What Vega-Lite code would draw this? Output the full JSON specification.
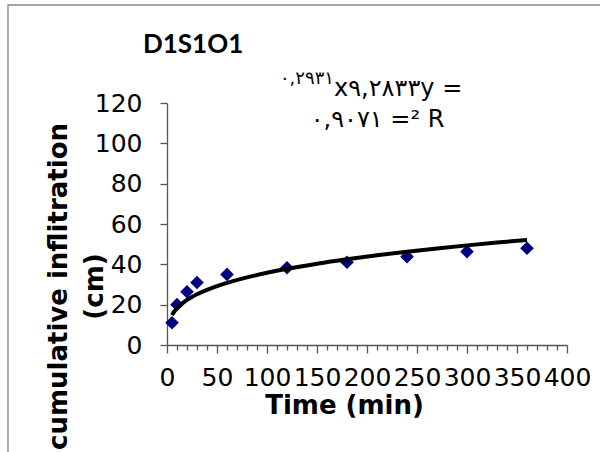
{
  "$schema": "https://vega.github.io/schema/vega-lite/v6.json",
  "width": 400,
  "height": 242,
  "autosize": "none",
  "padding": {"left": 167, "top": 103, "right": 33, "bottom": 107},
  "background": "white",
  "title": {
    "text": "D1S1O1",
    "anchor": "start",
    "frame": "group",
    "font": "Lato",
    "fontSize": 26,
    "fontWeight": "bold",
    "color": "black",
    "dx": -24,
    "offset": -75,
    "baseline": "alphabetic"
  },
  "datasets": {
    "obs": [
      {"time": 5, "infiltration": 11.0},
      {"time": 10, "infiltration": 20.0},
      {"time": 20, "infiltration": 26.4},
      {"time": 30, "infiltration": 31.0},
      {"time": 60, "infiltration": 35.0},
      {"time": 120, "infiltration": 38.3},
      {"time": 180, "infiltration": 41.0},
      {"time": 240, "infiltration": 43.8},
      {"time": 300, "infiltration": 46.3},
      {"time": 360, "infiltration": 48.0}
    ],
    "fit": [
      {"time": 5, "infiltration": 14.88},
      {"time": 7.5, "infiltration": 16.76},
      {"time": 10, "infiltration": 18.23},
      {"time": 15, "infiltration": 20.53},
      {"time": 20, "infiltration": 22.34},
      {"time": 25, "infiltration": 23.85},
      {"time": 30, "infiltration": 25.16},
      {"time": 40, "infiltration": 27.37},
      {"time": 50, "infiltration": 29.22},
      {"time": 60, "infiltration": 30.82},
      {"time": 80, "infiltration": 33.54},
      {"time": 100, "infiltration": 35.80},
      {"time": 120, "infiltration": 37.77},
      {"time": 150, "infiltration": 40.32},
      {"time": 180, "infiltration": 42.53},
      {"time": 210, "infiltration": 44.50},
      {"time": 240, "infiltration": 46.27},
      {"time": 270, "infiltration": 47.90},
      {"time": 300, "infiltration": 49.40},
      {"time": 330, "infiltration": 50.80},
      {"time": 360, "infiltration": 52.11}
    ],
    "note": [{"label": "equation"}]
  },
  "config": {
    "view": {"stroke": null},
    "axis": {
      "grid": false,
      "domainColor": "#555555",
      "tickColor": "#555555",
      "domainWidth": 1.3,
      "tickWidth": 1.3,
      "labelFont": "DejaVu Sans",
      "labelFontSize": 25,
      "labelColor": "black",
      "titleFont": "DejaVu Sans",
      "titleFontWeight": "bold",
      "titleFontSize": 26,
      "titleColor": "black",
      "labelOverlap": false,
      "labelFlush": false,
      "labelBound": false
    }
  },
  "encoding": {
    "y": {
      "type": "quantitative",
      "scale": {"domain": [0, 120], "nice": false},
      "axis": {
        "values": [0, 20, 40, 60, 80, 100, 120],
        "title": ["cumulative inflitration", "(cm)"],
        "tickSize": 7,
        "labelPadding": 18,
        "titleX": -122,
        "titleY": 183,
        "titleAngle": 270,
        "titleAlign": "center",
        "titleBaseline": "top",
        "titleLineHeight": 36
      }
    }
  },
  "layer": [
    {
      "data": {"name": "note"},
      "mark": {"type": "rect", "filled": false, "stroke": "#868686", "strokeWidth": 1.3, "clip": false},
      "encoding": {
        "x": {"datum": -159, "type": "quantitative", "axis": null},
        "x2": {"datum": 450},
        "y": {"datum": 168.6, "type": "quantitative"},
        "y2": {"datum": -60}
      }
    },
    {
      "data": {"name": "obs"},
      "mark": {"type": "point", "shape": "diamond", "filled": true, "color": "#000080", "size": 185, "opacity": 1},
      "encoding": {
        "x": {
          "field": "time",
          "type": "quantitative",
          "axis": {
            "orient": "bottom",
            "values": [10, 20, 30, 40, 60, 70, 80, 90, 110, 120, 130, 140, 160, 170, 180, 190, 210, 220, 230, 240, 260, 270, 280, 290, 310, 320, 330, 340, 360, 370, 380, 390],
            "labels": false,
            "title": null,
            "domain": false,
            "tickSize": 5
          }
        },
        "y": {"field": "infiltration", "type": "quantitative"}
      }
    },
    {
      "data": {"name": "fit"},
      "mark": {"type": "line", "color": "black", "strokeWidth": 4, "interpolate": "monotone"},
      "encoding": {
        "x": {
          "field": "time",
          "type": "quantitative",
          "scale": {"domain": [0, 400], "nice": false},
          "axis": {
            "orient": "bottom",
            "values": [0, 50, 100, 150, 200, 250, 300, 350, 400],
            "title": "Time (min)",
            "tickSize": 8,
            "labelPadding": 12,
            "titleX": 177,
            "titleY": 47,
            "titleAlign": "center",
            "titleBaseline": "top"
          }
        },
        "y": {"field": "infiltration", "type": "quantitative"}
      }
    },
    {
      "data": {"name": "note"},
      "mark": {"type": "text", "text": "٠,٢٩٣١", "align": "right", "baseline": "alphabetic", "font": "DejaVu Sans", "fontSize": 18, "color": "black"},
      "encoding": {
        "x": {"datum": 167, "type": "quantitative", "axis": null},
        "y": {"datum": 129.2, "type": "quantitative"}
      }
    },
    {
      "data": {"name": "note"},
      "mark": {"type": "text", "text": "x٩,٢٨٣٣y =", "align": "left", "baseline": "alphabetic", "font": "DejaVu Sans", "fontSize": 24, "color": "black"},
      "encoding": {
        "x": {"datum": 167, "type": "quantitative", "axis": null},
        "y": {"datum": 123.5, "type": "quantitative"}
      }
    },
    {
      "data": {"name": "note"},
      "mark": {"type": "text", "text": "٠,٩٠٧١ =² R", "align": "center", "baseline": "alphabetic", "font": "DejaVu Sans", "fontSize": 24, "color": "black"},
      "encoding": {
        "x": {"datum": 210.5, "type": "quantitative", "axis": null},
        "y": {"datum": 108.1, "type": "quantitative"}
      }
    }
  ],
  "resolve": {"axis": {"x": "independent"}}
}
